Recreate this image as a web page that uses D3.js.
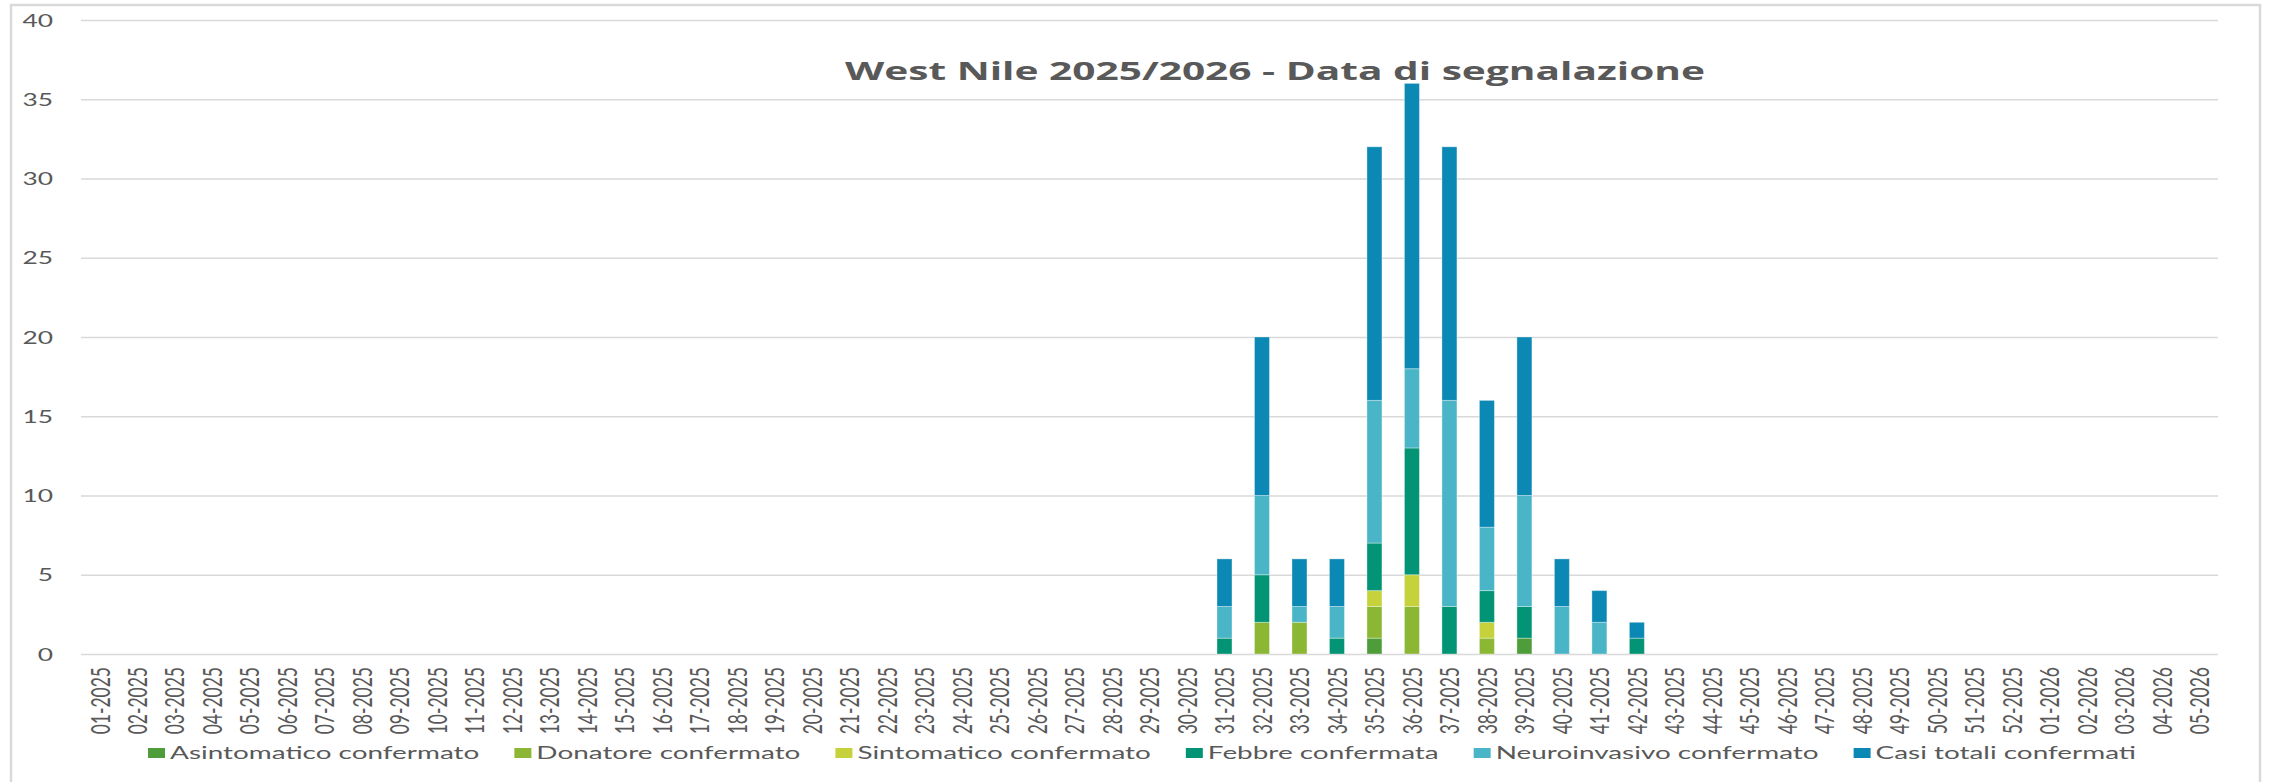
<!DOCTYPE html>
<html>
<head>
<meta charset="utf-8">
<script src="https://cdn.jsdelivr.net/npm/d3@7"></script>
<style>
  body { margin: 0; background: #fff; }
  svg text { font-family: Lato, "Open Sans", sans-serif; fill: #595959; }
</style>
</head>
<body>
<svg id="chart" width="2271" height="782"></svg>
<script>
// week labels (x categories)
const weeks = [
  "01-2025","02-2025","03-2025","04-2025","05-2025","06-2025","07-2025","08-2025","09-2025","10-2025",
  "11-2025","12-2025","13-2025","14-2025","15-2025","16-2025","17-2025","18-2025","19-2025","20-2025",
  "21-2025","22-2025","23-2025","24-2025","25-2025","26-2025","27-2025","28-2025","29-2025","30-2025",
  "31-2025","32-2025","33-2025","34-2025","35-2025","36-2025","37-2025","38-2025","39-2025","40-2025",
  "41-2025","42-2025","43-2025","44-2025","45-2025","46-2025","47-2025","48-2025","49-2025","50-2025",
  "51-2025","52-2025","01-2026","02-2026","03-2026","04-2026","05-2026"
];

// series values per week (weeks 01-2025 .. 05-2026)
const asintomatico = [0,0,0,0,0,0,0,0,0,0, 0,0,0,0,0,0,0,0,0,0, 0,0,0,0,0,0,0,0,0,0, 0,0,0,0,1,0,0,0,1,0, 0,0,0,0,0,0,0,0,0,0, 0,0,0,0,0,0,0];
const donatore     = [0,0,0,0,0,0,0,0,0,0, 0,0,0,0,0,0,0,0,0,0, 0,0,0,0,0,0,0,0,0,0, 0,2,2,0,2,3,0,1,0,0, 0,0,0,0,0,0,0,0,0,0, 0,0,0,0,0,0,0];
const sintomatico  = [0,0,0,0,0,0,0,0,0,0, 0,0,0,0,0,0,0,0,0,0, 0,0,0,0,0,0,0,0,0,0, 0,0,0,0,1,2,0,1,0,0, 0,0,0,0,0,0,0,0,0,0, 0,0,0,0,0,0,0];
const febbre       = [0,0,0,0,0,0,0,0,0,0, 0,0,0,0,0,0,0,0,0,0, 0,0,0,0,0,0,0,0,0,0, 1,3,0,1,3,8,3,2,2,0, 0,1,0,0,0,0,0,0,0,0, 0,0,0,0,0,0,0];
const neuroinvasivo= [0,0,0,0,0,0,0,0,0,0, 0,0,0,0,0,0,0,0,0,0, 0,0,0,0,0,0,0,0,0,0, 2,5,1,2,9,5,13,4,7,3, 2,0,0,0,0,0,0,0,0,0, 0,0,0,0,0,0,0];
const casiTotali   = [0,0,0,0,0,0,0,0,0,0, 0,0,0,0,0,0,0,0,0,0, 0,0,0,0,0,0,0,0,0,0, 3,10,3,3,16,18,16,8,10,3, 2,1,0,0,0,0,0,0,0,0, 0,0,0,0,0,0,0];

const seriesNames = ["Asintomatico confermato","Donatore confermato","Sintomatico confermato",
                     "Febbre confermata","Neuroinvasivo confermato","Casi totali confermati"];
const seriesColors = ["#4f9c3a","#8bb734","#c6d23b","#029474","#4ab5c6","#0b88b4"];
const yTicks = [0,5,10,15,20,25,30,35,40];

const title = "West Nile 2025/2026 - Data di segnalazione";

// the picture is stretched horizontally, so text gets this x scale
const sx = 1.55;

const svg = d3.select("#chart");
const margin = { left: 81, right: 2271 - 2218, top: 20, bottom: 782 - 654 };
const width = 2271 - margin.left - margin.right;
const height = 782 - margin.top - margin.bottom;

// outer chart border
svg.append("rect")
  .attr("x", 11).attr("y", 5)
  .attr("width", 2249).attr("height", 800)
  .attr("fill", "#fff")
  .attr("stroke", "#d9d9d9")
  .attr("stroke-width", 2.5);

const g = svg.append("g").attr("transform", `translate(${margin.left},${margin.top})`);

const x = d3.scaleBand().domain(weeks).range([0, width]).paddingInner(0.6).paddingOuter(0.3);
const y = d3.scaleLinear().domain([0, 40]).range([height, 0]);

// gridlines + y labels
const yAxis = g.append("g")
  .call(d3.axisLeft(y).tickValues(yTicks).tickSize(-width).tickPadding(0));
yAxis.select(".domain").remove();
yAxis.selectAll(".tick line").attr("stroke", "#d9d9d9").attr("stroke-width", 1.6);
yAxis.selectAll(".tick text")
  .attr("x", 0).attr("dy", "0.36em")
  .attr("transform", `translate(-28,0) scale(${sx},1)`)
  .attr("font-size", 17)
  .attr("fill", "#595959");

// stacked bars
const table = weeks.map((w, i) => ({
  week: w,
  s0: asintomatico[i], s1: donatore[i], s2: sintomatico[i],
  s3: febbre[i], s4: neuroinvasivo[i], s5: casiTotali[i]
}));
const keys = ["s0","s1","s2","s3","s4","s5"];
const stacked = d3.stack().keys(keys)(table);

g.append("g").selectAll("g")
  .data(stacked)
  .join("g")
    .attr("fill", (d, i) => seriesColors[i])
  .selectAll("rect")
  .data(d => d.filter(p => p[1] > p[0]))
  .join("rect")
    .attr("x", d => x(d.data.week))
    .attr("y", d => y(d[1]))
    .attr("width", x.bandwidth())
    .attr("height", d => y(d[0]) - y(d[1]))
    .attr("stroke", "rgba(255,255,255,0.35)")
    .attr("stroke-width", 1);

// x axis labels, rotated
const xAxis = g.append("g")
  .attr("transform", `translate(0,${height})`)
  .call(d3.axisBottom(x).tickSize(0));
xAxis.select(".domain").remove();
xAxis.selectAll(".tick text")
  .attr("x", 0).attr("y", 0).attr("dy", "0.36em")
  .attr("text-anchor", "end")
  .attr("transform", `translate(0,13) scale(${sx},1) rotate(-90)`)
  .attr("font-size", 17.5)
  .attr("fill", "#595959");

// title
svg.append("text")
  .attr("x", 1275).attr("y", 80)
  .attr("text-anchor", "middle")
  .attr("textLength", 860)
  .attr("lengthAdjust", "spacingAndGlyphs")
  .style("font-family", "'Open Sans', sans-serif")
  .attr("font-weight", 700)
  .attr("font-size", 25)
  .attr("fill", "#595959")
  .text(title);

// legend
const legend = svg.append("g");
const items = legend.selectAll("g")
  .data(seriesNames)
  .join("g");
items.append("rect")
  .attr("x", 0).attr("y", -5)
  .attr("width", 17).attr("height", 10)
  .attr("fill", (d, i) => seriesColors[i]);
items.append("text")
  .attr("x", 0).attr("dy", "0.36em")
  .attr("transform", `translate(22,0) scale(${sx},1)`)
  .attr("font-size", 18)
  .attr("fill", "#595959")
  .text(d => d);

// lay out legend items in one row, centred
const gap = 35;
let offs = [], pos = 0;
items.each(function() {
  const t = d3.select(this).select("text").node();
  offs.push(pos);
  pos += 22 + t.getComputedTextLength() * sx + gap;
});
const total = pos - gap;
const startX = 1142 - total / 2;
items.attr("transform", (d, i) => `translate(${startX + offs[i]},753)`);
</script>
</body>
</html>
